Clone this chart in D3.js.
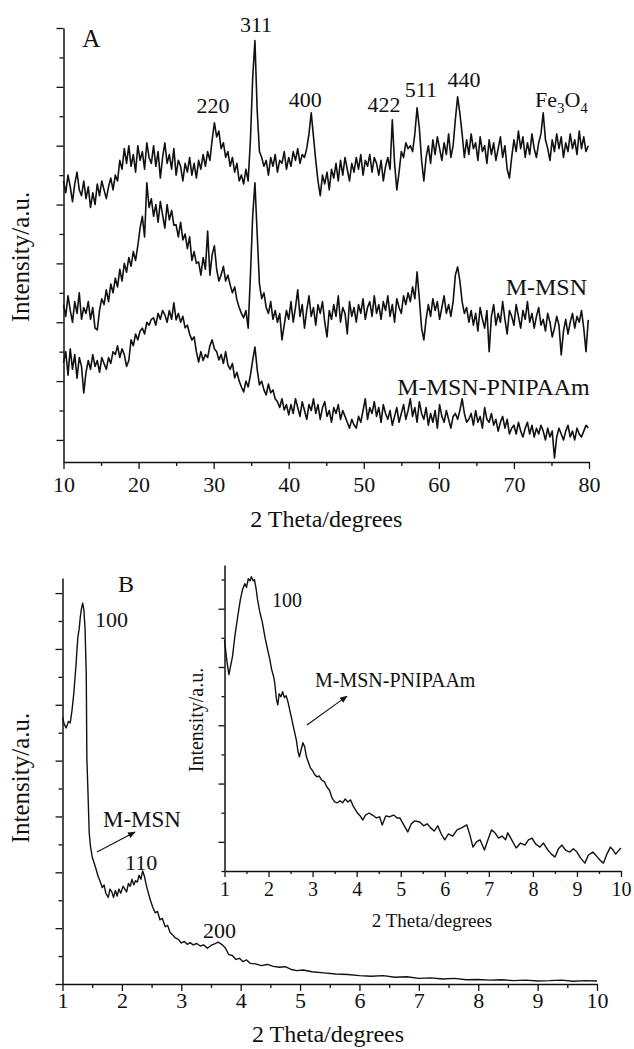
<!DOCTYPE html>
<html lang="en">
<head>
<meta charset="UTF-8" />
<title>XRD patterns</title>
<script src="https://cdnjs.cloudflare.com/ajax/libs/d3/7.8.5/d3.min.js"></script>
<style>
  body { margin: 0; background: #fff; }
  svg text { font-family: "Liberation Serif", "Times New Roman", serif; fill: #111; }
</style>
</head>
<body>
<script>
// ---- panel A : wide angle, 10-80 deg, one reading every 0.3 deg ----
const thetaAStart = 10, thetaAStep = 0.3;

const fe3o4 = [
  880, 840, 900, 860, 810, 870, 910, 850, 830, 880,
  820, 860, 790, 840, 800, 870, 830, 880, 850, 820,
  860, 890, 850, 900, 880, 950, 920, 990, 940, 1000,
  930, 970, 910, 1000, 950, 980, 920, 1010, 960, 940,
  1000, 930, 980, 890, 960, 1010, 940, 970, 920, 990,
  900, 950, 930, 880, 940, 910, 960, 900, 940, 890,
  950, 920, 970, 930, 980, 950, 1020, 1078, 1030, 1050,
  990, 1010, 960, 980, 930, 960, 910, 940, 880, 900,
  870, 920, 880, 1020, 1230, 1357, 1120, 980, 960, 930,
  950, 900, 960, 930, 970, 910, 950, 940, 980, 920,
  960, 930, 980, 950, 990, 940, 970, 960, 990, 1040,
  1112, 1030, 950, 880, 830, 900, 870, 910, 850, 920,
  890, 940, 880, 950, 900, 960, 920, 880, 940, 910,
  960, 920, 970, 900, 950, 930, 970, 910, 960, 940,
  900, 950, 880, 930, 960, 920, 1088, 940, 850, 910,
  980, 960, 1010, 990, 1000, 980, 1040, 1129, 1060, 950,
  880, 960, 1000, 940, 1020, 970, 1030, 990, 950, 1010,
  970, 1040, 960, 1000, 1090, 1166, 1110, 1040, 960, 1020,
  970, 1040, 990, 1010, 950, 1030, 980, 1000, 940, 1020,
  970, 1010, 950, 990, 1030, 960, 1000, 920, 890, 960,
  1020, 980, 1050, 990, 1030, 960, 1010, 970, 1040, 990,
  960, 1010, 1040, 1112, 1020, 990, 950, 1020, 980, 1040,
  990, 1030, 960, 1010, 980, 1040, 990, 1020, 970, 1050,
  990, 1030, 980, 1000
];

const mmsn = [
  460, 420, 490, 440, 400, 470, 430, 500, 410, 450,
  430, 470, 410, 450, 380, 374, 440, 480, 460, 510,
  470, 530, 500, 550, 520, 580, 540, 600, 570, 620,
  590, 640, 610, 660, 720, 760, 690, 874, 790, 820,
  760, 800, 740, 810, 765, 720, 800, 748, 780, 730,
  731, 690, 740, 680, 700, 650, 690, 610, 640, 600,
  605, 560, 620, 580, 710, 560, 629, 660, 580, 540,
  561, 590, 540, 560, 527, 500, 520, 476, 450, 430,
  415, 440, 380, 560, 760, 874, 700, 530, 480, 500,
  450, 430, 470, 410, 440, 400, 430, 340, 390, 440,
  410, 470, 400, 450, 510, 420, 460, 380, 440, 490,
  420, 450, 390, 460, 430, 470, 400, 350, 440, 410,
  460, 420, 490, 400, 450, 430, 360, 470, 420, 450,
  400, 460, 430, 480, 410, 450, 470, 420, 490, 430,
  460, 410, 470, 440, 490, 420, 460, 400, 480, 450,
  430, 490, 460, 500, 470, 520, 480, 571, 480, 380,
  340, 410, 460, 420, 480, 440, 470, 410, 450, 490,
  430, 460, 420, 470, 560, 588, 540, 470, 430, 450,
  400, 440, 390, 430, 370, 450, 410, 380, 440, 300,
  420, 460, 390, 430, 400, 470, 410, 360, 440, 420,
  390, 460, 420, 380, 440, 410, 470, 400, 430, 380,
  420, 450, 390, 410, 370, 430, 400, 350, 380, 420,
  390, 289, 370, 410, 360, 400, 430, 380, 420, 400,
  440, 380, 300, 408
];

const mmsnPnipaam = [
  262, 300, 220, 310, 240, 290, 210, 280, 250, 160,
  230, 270, 240, 290, 250, 270, 230, 280, 260, 240,
  280, 260, 300, 290, 320, 280, 310, 290, 250, 270,
  340, 320, 360, 340, 370, 380, 360, 400, 390, 410,
  415, 390, 430, 410, 440, 425, 400, 440, 410, 466,
  408, 430, 400, 420, 381, 390, 360, 340, 350, 300,
  265, 300, 270, 290, 280, 320, 340, 310, 300, 272,
  290, 260, 300, 255, 240, 260, 211, 230, 200, 180,
  163, 200, 180, 220, 270, 316, 240, 187, 200, 170,
  153, 190, 160, 170, 140, 130, 110, 140, 102, 120,
  85, 120, 90, 140, 110, 80, 130, 100, 70, 120,
  100, 140, 90, 120, 70, 110, 130, 80, 100, 60,
  110, 90, 120, 70, 100, 80, 60, 40, 70, 51,
  40, 80, 60, 100, 140, 70, 110, 90, 130, 80,
  110, 60, 120, 90, 70, 100, 50, 80, 110, 60,
  90, 120, 70, 100, 140, 80, 110, 60, 130, 90,
  70, 110, 50, 90, 60, 100, 40, 120, 80, 60,
  100, 70, 40, 80, 90, 70, 100, 140, 90, 60,
  70, 90, 50, 100, 60, 80, 40, 110, 70, 60,
  90, 50, 70, 30, 60, 80, 40, 70, 20, 40,
  50, 20, 60, 30, 10, 40, 60, 20, 50, 10,
  40, 20, 50, 30, 0, 40, 10, 30, -61, 10,
  40, 20, 0, 30, 50, 10, 30, 0, 40, 20,
  10, 30, 50, 41
];

const xTicksA = [10, 20, 30, 40, 50, 60, 70, 80];
const xMinorA = [15, 25, 35, 45, 55, 65, 75];
const yTicksA = d3.range(0, 1500, 100);

const peakLabelsA = [
  {t: "311", x: 35.64, y: 1386}, {t: "220", x: 29.9, y: 1111},
  {t: "400", x: 42.2, y: 1132}, {t: "422", x: 52.7, y: 1115},
  {t: "511", x: 57.6, y: 1165}, {t: "440", x: 63.35, y: 1200}
];

// ---- panel B : low angle, M-MSN ----
const thetaB = [
  1.00, 1.03, 1.06, 1.10, 1.13, 1.16, 1.19, 1.21, 1.23, 1.24, 1.26, 1.28, 1.30, 1.32, 1.34, 1.36,
  1.38, 1.40, 1.41, 1.43, 1.45, 1.47, 1.50, 1.53, 1.56, 1.60, 1.63, 1.67, 1.70, 1.73, 1.77, 1.80,
  1.83, 1.86, 1.89, 1.92, 1.95, 1.98, 2.02, 2.05, 2.08, 2.11, 2.14, 2.17, 2.20, 2.23, 2.26, 2.29,
  2.32, 2.35, 2.38, 2.41, 2.44, 2.48, 2.52, 2.56, 2.60, 2.64, 2.68, 2.73, 2.77, 2.81, 2.86, 2.90,
  2.95, 3.00, 3.05, 3.10, 3.15, 3.20, 3.26, 3.32, 3.38, 3.44, 3.50, 3.56, 3.62, 3.68, 3.74, 3.80,
  3.86, 3.92, 3.98, 4.04, 4.10, 4.16, 4.25, 4.35, 4.45, 4.55, 4.65, 4.75, 4.85, 4.95, 5.05, 5.2,
  5.4, 5.6, 5.8, 6.0, 6.2, 6.4, 6.6, 6.8, 7.0, 7.2, 7.4, 7.6, 7.8, 8.0, 8.2, 8.4,
  8.6, 8.8, 9.0, 9.2, 9.4, 9.6, 9.8, 10.0
];
const mmsnLow = [
  9.56, 9.30, 9.17, 9.40, 9.35, 9.80, 10.40, 10.95, 11.50, 11.85, 12.45, 12.70, 13.15, 13.45, 13.64, 13.40,
  12.70, 11.10, 8.10, 6.80, 5.40, 4.95, 4.55, 4.35, 4.15, 3.85, 3.70, 3.45, 3.55, 3.25, 3.10, 3.40,
  3.30, 3.10, 3.35, 3.15, 3.40, 3.25, 3.50, 3.40, 3.30, 3.60, 3.50, 3.75, 3.55, 3.70, 3.65, 3.90,
  3.75, 4.05, 3.85, 3.55, 3.30, 3.00, 2.75, 2.55, 2.60, 2.30, 2.35, 2.05, 2.10, 1.85, 1.75, 1.65,
  1.60, 1.47, 1.52, 1.42, 1.48, 1.40, 1.45, 1.36, 1.40, 1.28, 1.38, 1.44, 1.50, 1.42, 1.30, 1.05,
  1.02, 0.88, 0.92, 0.80, 0.86, 0.74, 0.72, 0.66, 0.70, 0.63, 0.60, 0.62, 0.52, 0.48, 0.50, 0.44,
  0.40, 0.36, 0.34, 0.30, 0.28, 0.30, 0.24, 0.26, 0.20, 0.22, 0.18, 0.20, 0.15, 0.16, 0.14, 0.15,
  0.12, 0.14, 0.11, 0.12, 0.14, 0.10, 0.12, 0.11
];

// ---- inset : low angle, M-MSN-PNIPAAm ----
const thetaInset = [
  1.00, 1.05, 1.10, 1.18, 1.24, 1.30, 1.36, 1.41, 1.46, 1.50, 1.54, 1.58, 1.61, 1.65, 1.68, 1.72,
  1.75, 1.80, 1.86, 1.92, 1.98, 2.03, 2.07, 2.11, 2.14, 2.18, 2.21, 2.24, 2.28, 2.32, 2.36, 2.40,
  2.44, 2.48, 2.52, 2.57, 2.63, 2.67, 2.70, 2.74, 2.78, 2.82, 2.86, 2.90, 2.95, 3.00, 3.05, 3.10,
  3.15, 3.20, 3.27, 3.32, 3.38, 3.44, 3.50, 3.56, 3.62, 3.68, 3.74, 3.80, 3.86, 3.92, 4.02, 4.08,
  4.14, 4.20, 4.28, 4.36, 4.45, 4.52, 4.58, 4.66, 4.74, 4.84, 4.92, 4.98, 5.08, 5.16, 5.24, 5.32,
  5.43, 5.52, 5.60, 5.68, 5.76, 5.84, 5.92, 6.00, 6.08, 6.18, 6.28, 6.38, 6.50, 6.57, 6.64, 6.72,
  6.80, 6.90, 6.98, 7.06, 7.14, 7.22, 7.30, 7.38, 7.43, 7.52, 7.62, 7.72, 7.82, 7.90, 7.98, 8.06,
  8.16, 8.24, 8.34, 8.42, 8.50, 8.58, 8.66, 8.74, 8.84, 8.92, 9.00, 9.08, 9.18, 9.26, 9.36, 9.44,
  9.52, 9.60, 9.68, 9.76, 9.82, 9.88, 9.94, 10.00
];
const pnipaamLow = [
  7.94, 7.25, 6.74, 7.35, 8.11, 8.73, 9.31, 9.66, 9.86, 9.73, 10.03, 9.96, 10.10, 9.96, 10.00, 9.66,
  9.31, 8.90, 8.52, 8.01, 7.59, 7.25, 6.91, 6.70, 6.46, 5.88, 5.70, 6.08, 5.98, 6.15, 5.95, 6.01,
  5.81, 5.53, 5.26, 4.91, 4.50, 4.09, 3.92, 4.16, 4.40, 4.26, 3.92, 3.75, 3.54, 3.44, 3.30, 3.23,
  3.26, 3.13, 3.06, 2.89, 2.78, 2.51, 2.37, 2.34, 2.41, 2.34, 2.47, 2.37, 2.44, 2.23, 1.99, 1.89,
  1.75, 1.92, 1.99, 1.92, 1.82, 1.86, 1.58, 1.89, 1.86, 1.92, 1.82, 1.82, 1.55, 1.34, 1.62, 1.72,
  1.68, 1.55, 1.62, 1.48, 1.37, 1.55, 1.27, 1.07, 1.27, 1.20, 1.41, 1.48, 1.58, 1.24, 0.82, 1.00,
  1.07, 0.72, 1.07, 1.41, 1.31, 1.13, 1.20, 1.07, 1.31, 1.07, 0.79, 0.96, 0.89, 1.07, 1.13, 0.93,
  0.82, 0.96, 0.72, 0.58, 0.48, 0.76, 0.89, 0.72, 0.65, 0.76, 0.65, 0.45, 0.27, 0.55, 0.65, 0.52,
  0.38, 0.27, 0.58, 0.82, 0.72, 0.58, 0.69, 0.79
];

const xTicksB = [1, 2, 3, 4, 5, 6, 7, 8, 9, 10];
const xMinorB = [1.5, 2.5, 3.5, 4.5, 5.5, 6.5, 7.5, 8.5, 9.5];
const yTicksB = d3.range(0, 15);
const yTicksInset = d3.range(0, 11);

// ---------------------------------------------------------------
const W = 634, H = 1049;
const svg = d3.select("body").append("svg").attr("width", W).attr("height", H)
  .style("display", "block").style("background", "#fff");

svg.append("defs").append("marker")
  .attr("id", "arr").attr("viewBox", "0 0 10 10")
  .attr("refX", 9).attr("refY", 5)
  .attr("markerWidth", 7).attr("markerHeight", 7)
  .attr("orient", "auto")
  .append("path").attr("d", "M0,1 L10,5 L0,9 z").attr("fill", "#111");

// scales
const xA = d3.scaleLinear().domain([10, 80]).range([63.5, 589]);
const yA = d3.scaleLinear().domain([-75, 1400]).range([462, 28]);
const xB = d3.scaleLinear().domain([1, 10]).range([62.5, 597]);
const yB = d3.scaleLinear().domain([0, 14.54]).range([984, 578]);
const xI = d3.scaleLinear().domain([1, 10]).range([224.5, 621]);
const yI = d3.scaleLinear().domain([0, 10.5]).range([871, 565]);

function styleAxis(g, fontSize) {
  g.attr("font-family", null).attr("font-size", null);
  g.select(".domain").attr("stroke", "#111").attr("stroke-width", 1.5);
  g.selectAll(".tick line").attr("stroke", "#111").attr("stroke-width", 1.3);
  g.selectAll(".tick text").style("font-size", fontSize + "px").attr("fill", "#111");
}

function drawAxes(opt) {
  const gx = svg.append("g").attr("transform", `translate(0,${opt.y.range()[0]})`)
    .call(d3.axisBottom(opt.x).tickValues(opt.xTicks).tickFormat(d3.format("d"))
      .tickSize(opt.major).tickPadding(opt.pad).tickSizeOuter(0));
  styleAxis(gx, opt.font);
  const gm = svg.append("g").attr("transform", `translate(0,${opt.y.range()[0]})`)
    .call(d3.axisBottom(opt.x).tickValues(opt.xMinor).tickFormat("").tickSize(opt.minor).tickSizeOuter(0));
  styleAxis(gm, opt.font);
  gm.select(".domain").remove();

  const gy = svg.append("g").attr("transform", `translate(${opt.x.range()[0]},0)`)
    .call(d3.axisLeft(opt.y).tickValues(opt.yTicks).tickFormat("").tickSize(opt.major).tickSizeOuter(0));
  styleAxis(gy, opt.font);
  gy.selectAll(".tick line").attr("x2", (d, i) => opt.isLong(i) ? -opt.major : -opt.minor);
}

function drawLine(x, y, xs, ys, width) {
  svg.append("path")
    .datum(ys)
    .attr("fill", "none").attr("stroke", "#111").attr("stroke-width", width)
    .attr("stroke-linejoin", "round")
    .attr("d", d3.line().x((d, i) => x(xs[i])).y(d => y(d)));
}

function label(txt, x, y, size, anchor) {
  return svg.append("text").attr("x", x).attr("y", y)
    .attr("text-anchor", anchor || "start").style("font-size", size + "px").text(txt);
}

// ---------------- panel A ----------------
drawAxes({x: xA, y: yA, xTicks: xTicksA, xMinor: xMinorA, yTicks: yTicksA,
  major: 7, minor: 4, pad: 7, font: 22, isLong: i => i % 2 === 0});

const thetaA = d3.range(fe3o4.length).map(i => thetaAStart + i * thetaAStep);
drawLine(xA, yA, thetaA, fe3o4, 1.6);
drawLine(xA, yA, thetaA, mmsn, 1.6);
drawLine(xA, yA, thetaA, mmsnPnipaam, 1.6);

peakLabelsA.forEach(p => label(p.t, xA(p.x), yA(p.y), 22, "middle"));
const fe = label("Fe", xA(72.8), yA(1132), 22);
fe.append("tspan").attr("dy", 6).style("font-size", "15px").text("3");
fe.append("tspan").attr("dy", -6).text("O");
fe.append("tspan").attr("dy", 6).style("font-size", "15px").text("4");
label("M-MSN", xA(79.74), yA(493), 24, "end");
label("M-MSN-PNIPAAm", xA(80.1), yA(153), 24, "end");
label("A", xA(12.5), yA(1335), 25);

label("2 Theta/degrees", (xA.range()[0] + xA.range()[1]) / 2, 527, 24, "middle");
svg.append("text").attr("transform", "translate(29,257) rotate(-90)")
  .attr("text-anchor", "middle").style("font-size", "25px").text("Intensity/a.u.");

// ---------------- panel B ----------------
drawAxes({x: xB, y: yB, xTicks: xTicksB, xMinor: xMinorB, yTicks: yTicksB,
  major: 7, minor: 4, pad: 1, font: 22, isLong: i => i % 2 === 0});
drawLine(xB, yB, thetaB, mmsnLow, 1.4);

label("B", xB(1.934), yB(14.03), 24);
label("100", xB(1.547), yB(12.78), 22);
label("M-MSN", xB(1.682), yB(5.62), 23);
label("110", xB(2.052), yB(4.08), 22);
label("200", xB(3.366), yB(1.65), 22);
svg.append("line")
  .attr("x1", xB(1.581)).attr("y1", yB(4.73)).attr("x2", xB(2.221)).attr("y2", yB(5.44))
  .attr("stroke", "#111").attr("stroke-width", 1.1).attr("marker-end", "url(#arr)");

label("2 Theta/degrees", 328, 1042, 24, "middle");
svg.append("text").attr("transform", "translate(29,778) rotate(-90)")
  .attr("text-anchor", "middle").style("font-size", "25px").text("Intensity/a.u.");

// ---------------- inset ----------------
drawAxes({x: xI, y: yI, xTicks: xTicksB, xMinor: xMinorB, yTicks: yTicksInset,
  major: 6, minor: 3, pad: 5, font: 20, isLong: i => i % 2 === 1});
drawLine(xI, yI, thetaInset, pnipaamLow, 1.4);

label("100", xI(2.078), yI(9.06), 20);
label("M-MSN-PNIPAAm", xI(3.054), yI(6.31), 20);
svg.append("line")
  .attr("x1", xI(2.872)).attr("y1", yI(5.01)).attr("x2", xI(3.78)).attr("y2", yI(6.0))
  .attr("stroke", "#111").attr("stroke-width", 1.1).attr("marker-end", "url(#arr)");

label("2 Theta/degrees", 432, 927, 19, "middle");
svg.append("text").attr("transform", "translate(203,720) rotate(-90)")
  .attr("text-anchor", "middle").style("font-size", "20px").text("Intensity/a.u.");
</script>
</body>
</html>
